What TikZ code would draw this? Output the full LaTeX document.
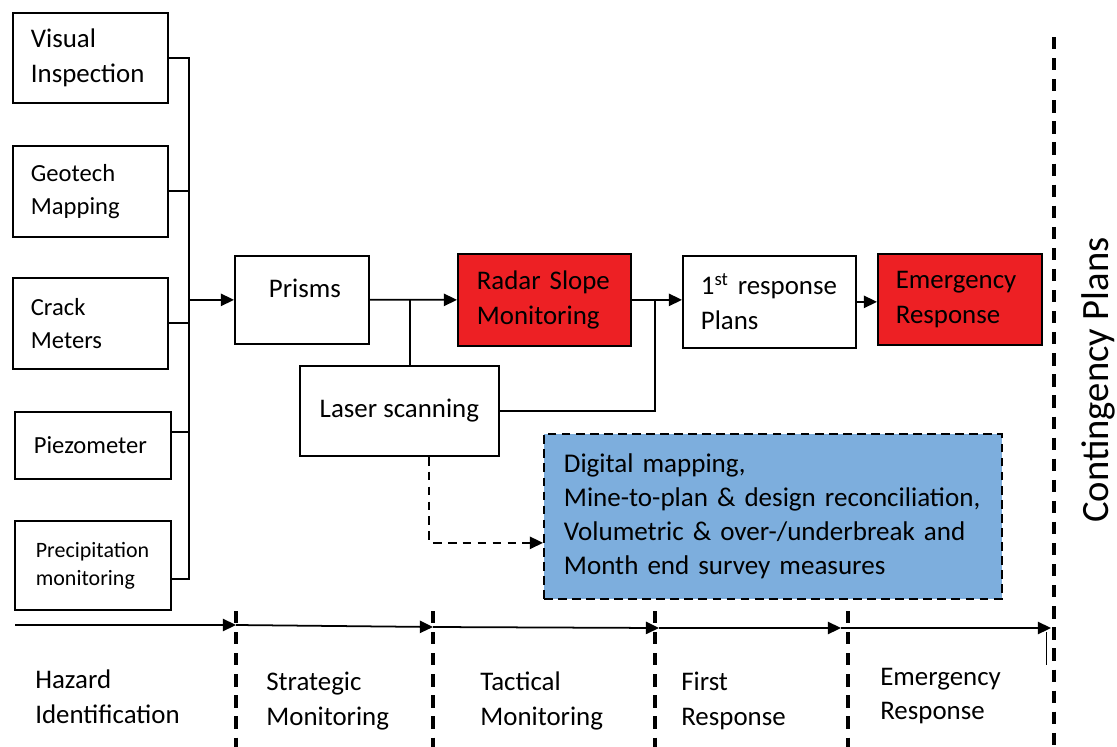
\documentclass[tikz,border=0pt]{standalone}
\usepackage{fontspec}
\setmainfont{Carlito}
\usetikzlibrary{arrows.meta, calc, positioning}
\definecolor{alarmred}{RGB}{237, 32, 36}
\definecolor{surveyblue}{RGB}{125, 174, 221}
\newcommand{\bigtxt}{\fontsize{15.3}{19.8}\selectfont}
\newcommand{\midtxt}{\fontsize{14}{18.8}\selectfont}
\newcommand{\smalltxt}{\fontsize{12.5}{15.9}\selectfont}

\begin{document}
\begin{tikzpicture}[x=0.02cm, y=-0.02cm,
    box/.style={draw, line width=1pt, anchor=north west, align=left,
      inner xsep=0.36cm, inner ysep=0pt, font=\bigtxt},
    link/.style={line width=1pt},
    arr/.style={line width=1pt, -{Triangle[length=7.5pt, width=7pt]}},
    dasharr/.style={line width=1pt, dash pattern=on 5pt off 3.5pt,
      -{Triangle[length=7.5pt, width=7pt]}},
    phase/.style={line width=2pt, dash pattern=on 7pt off 5pt},
    phaselbl/.style={anchor=west, align=left, inner sep=0pt, font=\bigtxt}]
  \useasboundingbox (0,0) rectangle (1117,747);

  % Hazard identification sources
  \node[box, minimum width=3.10cm, minimum height=1.80cm, text width=2.38cm] (visual) at (12,12) {Visual\\Inspection};
  \node[box, font=\midtxt, minimum width=3.10cm, minimum height=1.82cm, text width=2.38cm] (geotech) at (12,145) {Geotech\\Mapping};
  \node[box, font=\midtxt, minimum width=3.10cm, minimum height=1.82cm, text width=2.38cm] (crack) at (12,277) {Crack\\Meters};
  \node[box, font=\midtxt, minimum width=3.12cm, minimum height=1.34cm, text width=2.36cm, inner xsep=0.38cm] (piezo) at (14,411) {Piezometer};
  \node[box, font=\smalltxt, minimum width=3.12cm, minimum height=1.78cm, text width=2.28cm, inner xsep=0.42cm] (precip) at (14,520) {Precipitation\\monitoring};

  % Collecting bus
  \coordinate (bus) at (189,0);
  \coordinate (piezoOut) at ([yshift=0.27cm]piezo.east);
  \coordinate (precipOut) at ([yshift=-0.27cm]precip.east);
  \draw[link] (visual.east) -- (visual.east -| bus) |- (precipOut);
  \draw[link] (geotech.east) -- (geotech.east -| bus);
  \draw[link] (crack.east) -- (crack.east -| bus);
  \draw[link] (piezoOut) -- (piezoOut -| bus);

  % Monitoring chain
  \node[box, minimum width=2.68cm, minimum height=1.76cm, text width=1.32cm, inner xsep=0.68cm] (prisms) at (234,255) {Prisms\\[-0.25cm]\mbox{}};
  \node[box, fill=alarmred, minimum width=3.46cm, minimum height=1.84cm, text width=2.70cm, inner xsep=0.38cm] (radar) at (457,253) {\mbox{Radar Slope}\\Monitoring};
  \node[box, minimum width=3.98cm, minimum height=1.80cm, align=center] (laser) at (299,365) {Laser scanning};
  \node[box, minimum width=3.46cm, minimum height=1.84cm, text width=2.74cm] (first) at (682,255) {\mbox{1\textsuperscript{st} response}\\Plans};
  \node[box, fill=surveyblue, dash pattern=on 5pt off 3pt, minimum width=9.16cm, minimum height=3.30cm, text width=8.36cm, inner xsep=0.4cm, font=\fontsize{15.4}{19.3}\selectfont] (digital) at (543,433)
    {\mbox{Digital mapping,}\\\mbox{Mine-to-plan \& design reconciliation,}\\\mbox{Volumetric \& over-/underbreak and}\\\mbox{Month end survey measures}};
  \node[box, fill=alarmred, minimum width=3.28cm, minimum height=1.82cm, text width=2.56cm] (emerg) at (877,253) {Emergency\\Response};

  \draw[arr] (prisms.west -| bus) -- (prisms.west);
  \draw[arr] (prisms.east) -- (radar.west);
  \coordinate (laserUp) at (410,299);
  \draw[link] (laserUp) -- (laserUp |- laser.north);
  \coordinate (join) at (655,300);
  \draw[link] (laser.east) -| (join);
  \draw[arr] (radar.east) -- (radar.east -| first.west);
  \draw[arr] (first.east) -- (first.east -| emerg.west);
  \coordinate (digitalIn) at ([yshift=-0.53cm]digital.west);
  \draw[dasharr] ([xshift=0.6cm]laser.south) |- (digitalIn);

  % Timeline
  \coordinate (t0) at (15,625);
  \coordinate (t1) at (236,625);
  \coordinate (t2) at (433,627);
  \coordinate (t3) at (659,628);
  \coordinate (t4) at (841,628);
  \coordinate (t5) at (1051,628);
  \foreach \a/\b in {t0/t1, t1/t2, t2/t3, t3/t4, t4/t5}
    \draw[arr] (\a) -- (\b);
  \draw[line width=0.5pt] (1046,632) -- (1046,665);

  % Phase borders
  \foreach \x in {236, 433, 655, 848}
    \draw[phase] (\x,611) -- (\x,747);
  \coordinate (cTop) at (1054,37);
  \coordinate (cBot) at (1054,747);
  \draw[phase] (cTop) -- (cBot);
  \node[rotate=90, inner sep=0pt, font=\fontsize{22}{26}\selectfont] (contingency) at (1098,380) {Contingency Plans};

  % Phase names
  \node[phaselbl] (hazard) at (35,697) {Hazard\\Identification};
  \node[phaselbl] (strategic) at (266,701) {Strategic\\Monitoring};
  \node[phaselbl] (tactical) at (480,701) {Tactical\\Monitoring};
  \node[phaselbl] (firstresp) at (681,701) {First\\Response};
  \node[phaselbl] (emergresp) at (880,696) {Emergency\\Response};
\end{tikzpicture}
\end{document}
